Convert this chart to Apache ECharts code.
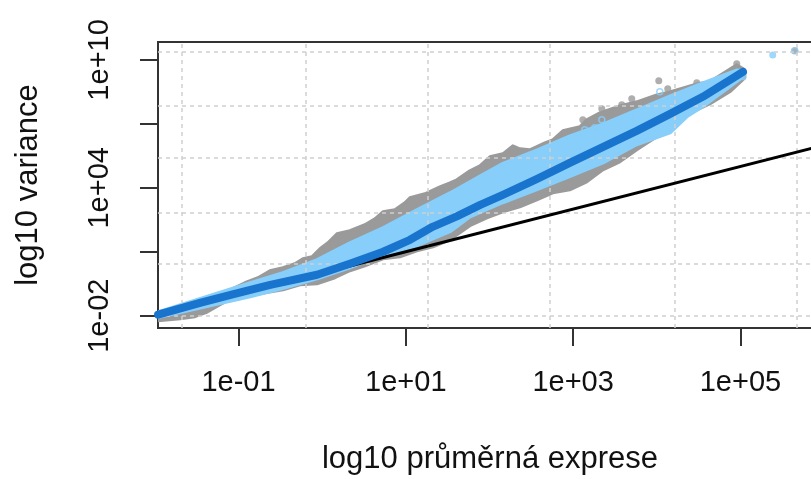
<!DOCTYPE html>
<html>
<head>
<meta charset="utf-8">
<script src="https://cdn.jsdelivr.net/npm/echarts@6/dist/echarts.min.js"></script>
<style>
  html, body { margin: 0; padding: 0; background: #ffffff; }
  #chart { width: 811px; height: 479px; }
</style>
</head>
<body>
<div id="chart"></div>
<script>
// Mean–variance relationship, both axes in log10 units.

// Axis ranges and tick positions (log10)
const xRange = [-1.962, 5.975];
const yRange = [-2.577, 10.84];
const xTicks = [-1, 1, 3, 5];
const yTicks = [-2, 1, 4, 7, 10];
const yTickLabels = [-2, 4, 10];
const gridLinesX = [-1.675, -0.194, 1.264, 2.722, 4.215, 5.673];
const gridLinesY = [-2, 0.438, 2.843, 5.407, 7.845, 10.377];

// Raw per-gene variance cloud: upper edge (left to right), lower edge (right to left)
const rawUpper = [
  [-1.962,-1.812],[-1.699,-1.672],[-1.460,-1.391],[-1.221,-1.109],[-1.066,-0.734],
  [-0.923,-0.453],[-0.767,-0.218],[-0.624,0.110],[-0.468,0.250],[-0.325,0.438],
  [-0.230,0.672],[-0.122,0.766],[-0.026,1.141],[0.069,1.422],[0.177,1.844],
  [0.332,1.985],[0.511,2.266],[0.631,2.548],[0.726,2.876],[0.870,2.969],
  [0.989,3.298],[1.049,3.532],[1.228,3.720],[1.407,4.048],[1.527,4.235],
  [1.610,4.376],[1.766,4.798],[1.885,5.032],[2.005,5.454],[2.160,5.595],
  [2.279,5.970],[2.363,5.829],[2.483,5.782],[2.662,6.111],[2.757,6.251],
  [2.877,6.673],[3.080,6.861],[3.163,7.189],[3.319,7.517],[3.558,7.845],
  [3.761,8.033],[4.000,8.361],[4.155,8.502],[4.478,8.877],[4.633,8.970],
  [4.956,9.767],[5.052,9.533]
];
const rawLower = [
  [5.052,9.158],[4.873,8.502],[4.633,7.939],[4.478,7.658],[4.239,7.330],
  [4.155,6.720],[4.000,6.392],[3.761,5.782],[3.558,5.220],[3.355,4.845],
  [3.163,4.282],[2.960,3.907],[2.757,3.767],[2.566,3.438],[2.363,3.110],
  [2.160,2.876],[1.969,2.594],[1.766,2.220],[1.527,1.563],[1.324,1.235],
  [1.133,1.047],[0.929,0.766],[0.726,0.672],[0.511,0.344],[0.332,0.110],
  [0.153,-0.218],[-0.062,-0.500],[-0.265,-0.547],[-0.468,-0.781],[-0.683,-0.922],
  [-0.863,-1.062],[-1.066,-1.156],[-1.221,-1.484],[-1.388,-1.859],[-1.520,-2.047],
  [-1.699,-2.141],[-1.962,-2.234]
];
const rawOutliers = [
  [4.024,9.017],[4.131,8.642],[3.701,8.173],[3.582,7.892],[3.343,7.705],
  [3.116,7.189],[4.956,9.814],[4.478,8.923],[4.597,8.220],[5.649,10.424]
];

// Shrunken variance cloud
const shrunkUpper = [
  [-1.96,-1.81],[-0.86,-0.45],[-0.47,0.02],[-0.06,0.63],[0.33,1.42],[0.73,2.13],
  [1.13,2.97],[1.53,3.77],[1.89,4.56],[2.16,5.15],[2.57,5.78],[2.96,6.44],
  [3.36,7.00],[3.76,7.66],[4.16,8.31],[4.55,8.92],[4.96,9.53],[5.06,9.48]
];
const shrunkLower = [
  [5.00,9.10],[4.55,7.80],[4.36,7.33],[4.16,6.58],[3.76,6.02],[3.36,5.17],
  [2.96,4.52],[2.57,3.91],[2.16,3.30],[1.77,2.64],[1.53,1.94],[1.13,1.28],
  [0.73,0.86],[0.33,0.25],[-0.06,-0.27],[-0.47,-0.73],[-0.86,-1.11],[-1.96,-2.09]
];
const shrunkOpen = [
  [4.036,8.502],[3.701,7.423],[3.582,7.095],[3.343,7.189],[3.259,6.814],
  [3.140,6.720],[4.000,7.892],[4.478,7.986],[5.649,10.424]
];
const shrunkFilled = [[5.386,10.236],[5.03,9.21]];

// Fitted mean–variance trend
const fitTrend = [
  [-1.96,-1.95],[-1.46,-1.40],[-1.07,-1.00],[-0.62,-0.55],[-0.06,-0.08],[0.33,0.44],
  [0.73,1.00],[1.05,1.56],[1.32,2.17],[1.61,2.66],[1.89,3.20],[2.16,3.67],
  [2.57,4.42],[2.96,5.17],[3.36,5.92],[3.76,6.67],[4.16,7.47],[4.55,8.27],[5.03,9.44]
];

// Poisson reference: variance = mean
const poissonLine = [[-2.6, -2.6], [6.5, 6.5]];

const COL_GRAY = '#9a9a9a';
const COL_LIGHT = '#87cefa';
const COL_BLUE = '#1874cd';
const FONT = '"Liberation Sans", Arial, sans-serif';

function sci(v) {
  const e = Math.round(v);
  const a = Math.abs(e);
  return '1e' + (e < 0 ? '-' : '+') + (a < 10 ? '0' + a : '' + a);
}

function cloud(name, upper, lower, color, z) {
  const pts = upper.concat(lower);
  return {
    type: 'custom', name: name, z: z, silent: true, clip: true,
    data: [pts[0]],
    renderItem: function (params, api) {
      return {
        type: 'polygon',
        shape: { points: pts.map(function (p) { return api.coord(p); }) },
        style: { fill: color, stroke: color, lineWidth: 3, lineJoin: 'round' }
      };
    }
  };
}

const chart = echarts.init(document.getElementById('chart'), null, { renderer: 'canvas' });

chart.setOption({
  animation: false,
  backgroundColor: '#ffffff',
  grid: {
    left: 158, top: 42, width: 664, height: 286,
    show: true, borderColor: '#333333', borderWidth: 2,
    containLabel: false, outerBoundsMode: 'none'
  },
  xAxis: {
    type: 'value', min: xRange[0], max: xRange[1],
    axisLine: { show: false, onZero: false },
    splitLine: { show: false },
    axisTick: { show: true, customValues: xTicks, length: 18, lineStyle: { color: '#333333', width: 2 } },
    axisLabel: { customValues: xTicks, formatter: sci, fontSize: 29, fontFamily: FONT, color: '#111111', margin: 40 },
    name: 'log10 průměrná exprese', nameLocation: 'middle', nameGap: 116,
    nameTextStyle: { fontSize: 31, fontFamily: FONT, color: '#111111' }
  },
  yAxis: {
    type: 'value', min: yRange[0], max: yRange[1],
    axisLine: { show: false, onZero: false },
    splitLine: { show: false },
    axisTick: { show: true, customValues: yTicks, length: 18, lineStyle: { color: '#333333', width: 2 } },
    axisLabel: { customValues: yTickLabels, formatter: sci, rotate: 90, fontSize: 29, fontFamily: FONT, color: '#111111', margin: 44 },
    name: 'log10 variance', nameLocation: 'middle', nameGap: 114, nameRotate: 90,
    nameTextStyle: { fontSize: 31, fontFamily: FONT, color: '#111111' }
  },
  series: [
    {
      // dashed reference grid
      type: 'line', z: 0, data: poissonLine, symbol: 'none', silent: true,
      lineStyle: { opacity: 0 },
      markLine: {
        silent: true, symbol: 'none', label: { show: false },
        lineStyle: { color: '#cfcfcf', width: 1.5, type: [4, 4] },
        data: gridLinesX.map(function (v) { return { xAxis: v }; })
          .concat(gridLinesY.map(function (v) { return { yAxis: v }; }))
      }
    },
    cloud('raw', rawUpper, rawLower, COL_GRAY, 1),
    {
      type: 'scatter', z: 2, data: rawOutliers, symbol: 'circle', symbolSize: 7,
      itemStyle: { color: COL_GRAY }, silent: true
    },
    cloud('shrunk', shrunkUpper, shrunkLower, COL_LIGHT, 3),
    {
      type: 'scatter', z: 4, data: shrunkOpen, symbol: 'circle', symbolSize: 6,
      itemStyle: { color: 'rgba(0,0,0,0)', borderColor: COL_LIGHT, borderWidth: 1.5 }, silent: true
    },
    {
      type: 'scatter', z: 4, data: shrunkFilled, symbol: 'circle', symbolSize: 7,
      itemStyle: { color: COL_LIGHT }, silent: true
    },
    {
      type: 'line', z: 5, data: poissonLine, symbol: 'none', silent: true, clip: true,
      lineStyle: { color: '#000000', width: 3 }
    },
    {
      type: 'line', z: 6, data: fitTrend, symbol: 'none', silent: true, clip: true,
      lineStyle: { color: COL_BLUE, width: 8, cap: 'round', join: 'round' }
    }
  ]
});
</script>
</body>
</html>
